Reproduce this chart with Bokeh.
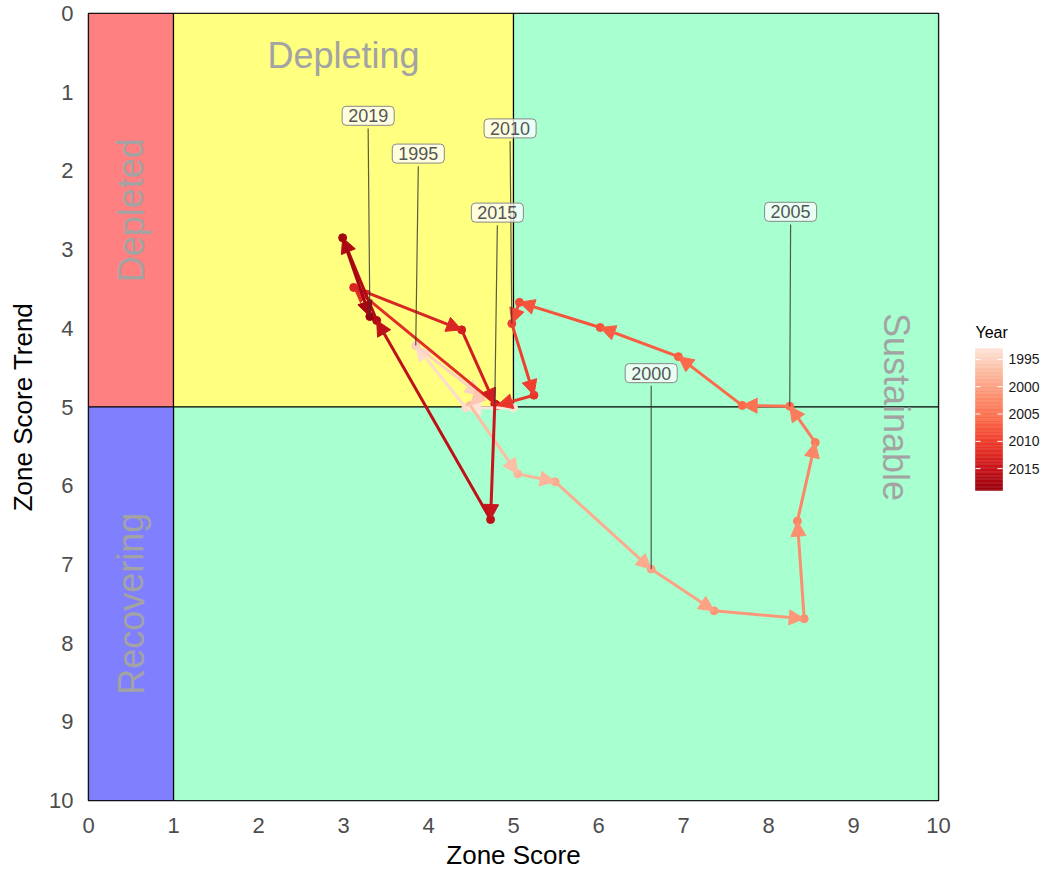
from bokeh.plotting import figure
from bokeh.layouts import row
from bokeh.models import Range1d, ColumnDataSource, Arrow, NormalHead, FixedTicker
from bokeh.core.properties import value, field
from bokeh.embed import file_html
from bokeh.resources import INLINE

# ---------------- data ----------------
years = list(range(1993, 2020))
zone_score = [5.00, 4.44, 3.85, 4.61, 4.49, 5.05, 5.49, 6.62, 7.36, 8.42, 8.34, 8.55, 8.25,
              7.69, 6.94, 6.02, 5.07, 4.98, 5.24, 4.81, 3.12, 4.39, 4.78, 4.73, 3.39, 2.99, 3.31]
zone_trend = [5.01, 5.01, 4.22, 4.85, 4.98, 5.85, 5.95, 7.06, 7.59, 7.69, 6.45, 5.45, 4.99,
              4.98, 4.36, 3.99, 3.67, 3.94, 4.85, 4.98, 3.48, 4.02, 4.96, 6.43, 3.90, 2.85, 3.85]

label_years = [1995, 2000, 2005, 2010, 2015, 2019]
label_x = [3.88, 6.62, 8.26, 4.96, 4.81, 3.29]
label_y = [1.78, 4.57, 2.52, 1.46, 2.53, 1.30]

zone_names = ["Depleted", "Depleting", "Sustainable", "Sustainable", "Recovering"]
zone_left = [0, 1, 5, 1, 0]
zone_right = [1, 5, 10, 10, 1]
zone_top = [0, 0, 0, 5, 5]
zone_bottom = [5, 5, 5, 10, 10]
zone_colors = ["#FF8080", "#FFFF80", "#A8FFCF", "#A8FFCF", "#8080FF"]

region_text = ["Depleting", "Depleted", "Recovering", "Sustainable"]
region_x = [3.0, 0.5, 0.5, 9.5]
region_y = [0.53, 2.5, 7.5, 5.0]
region_angle = [0.0, 1.5708, 1.5708, -1.5708]

cbar_ticks = [1995, 2000, 2005, 2010, 2015]

# ---------------- colour helpers ----------------
reds7 = ["#FEE5D9", "#FCBBA1", "#FC9272", "#FB6A4A", "#EF3B2C", "#CB181D", "#99000D"]


def hex2rgb(h):
    return tuple(int(h[i:i + 2], 16) for i in (1, 3, 5))


def interp(t):
    t = min(max(t, 0.0), 1.0)
    pos = t * (len(reds7) - 1)
    i = min(int(pos), len(reds7) - 2)
    f = pos - i
    a, b = hex2rgb(reds7[i]), hex2rgb(reds7[i + 1])
    c = [round(a[k] + (b[k] - a[k]) * f) for k in range(3)]
    return "#%02x%02x%02x" % tuple(c)


ymin, ymax = min(years), max(years)
pt_colors = [interp((y - ymin) / (ymax - ymin)) for y in years]

FONT = "Liberation Sans"

p = figure(frame_width=850, frame_height=787,
           x_range=Range1d(0, 10), y_range=Range1d(10, 0),
           output_backend="svg", toolbar_location=None,
           min_border_left=88, min_border_top=13, min_border_bottom=75, min_border_right=20,
           background_fill_color="white", border_fill_color="white")
p.xgrid.visible = False
p.ygrid.visible = False
p.outline_line_color = "black"
p.outline_line_width = 1.5

# zones
p.quad(left=zone_left, right=zone_right, top=zone_top, bottom=zone_bottom,
       fill_color=zone_colors, line_color="black", line_width=1.2)

# region labels
p.text(x=region_x, y=region_y, text=region_text, angle=region_angle,
       text_align="center", text_baseline="middle", text_color="#A3A3A3",
       text_font=value(FONT), text_font_size="36px")

# path
seg = ColumnDataSource(dict(x0=zone_score[:-1], y0=zone_trend[:-1],
                            x1=zone_score[1:], y1=zone_trend[1:],
                            c=pt_colors[:-1]))
arrow = Arrow(x_start="x0", y_start="y0", x_end="x1", y_end="y1", source=seg,
              line_color=field("c"), line_width=3,
              end=NormalHead(size=15, fill_color=field("c"), line_color=field("c"), line_width=1))
p.add_layout(arrow)

pts = ColumnDataSource(dict(x=zone_score, y=zone_trend, c=pt_colors))
p.scatter("x", "y", source=pts, size=8, color="c", line_color="c")

# labels with connectors
lookup = {y: (zone_score[i], zone_trend[i]) for i, y in enumerate(years)}
lab = ColumnDataSource(dict(
    lx=label_x, ly=label_y, ly0=[v + 0.16 for v in label_y],
    px=[lookup[y][0] for y in label_years], py=[lookup[y][1] for y in label_years],
    t=[str(y) for y in label_years]))
p.segment(x0="lx", y0="ly0", x1="px", y1="py", source=lab, line_color="#333333",
          line_alpha=0.8, line_width=1.2, level="overlay")
p.text(x="lx", y="ly", text="t", source=lab, text_align="center", text_baseline="middle",
       text_color="#555555", text_font=value(FONT), text_font_size="18px",
       background_fill_color="white", background_fill_alpha=0.75,
       border_line_color="#888888", border_line_width=1, padding=[6, 3], border_radius=4,
       level="overlay")

# axes
for ax in (p.xaxis[0], p.yaxis[0]):
    ax.axis_line_color = None
    ax.major_tick_line_color = None
    ax.minor_tick_line_color = None
    ax.major_tick_out = 0
    ax.major_tick_in = 0
    ax.major_label_text_font = FONT
    ax.major_label_text_font_size = "22px"
    ax.major_label_text_color = "#4D4D4D"
    ax.axis_label_text_font = FONT
    ax.axis_label_text_font_size = "26px"
    ax.axis_label_text_font_style = "normal"
    ax.axis_label_text_color = "black"
    ax.ticker = FixedTicker(ticks=list(range(0, 11)))
p.xaxis.axis_label = "Zone Score"
p.yaxis.axis_label = "Zone Score Trend"
p.xaxis.major_label_standoff = 17
p.xaxis.axis_label_standoff = 4
p.yaxis.major_label_standoff = 15
p.yaxis.axis_label_standoff = 8

# ---------------- colour legend (separate small figure, frame aligned with main one) ----
FR_TOP, FR_BOT = 13.0, 800.0
px_per_year = 142.0 / (ymax - ymin)
top_year = ymin - (348.0 - FR_TOP) / px_per_year
bot_year = ymin + (FR_BOT - 348.0) / px_per_year
leg = figure(frame_width=96, frame_height=787, x_range=Range1d(0, 96),
             y_range=Range1d(bot_year, top_year),
             x_axis_type=None, y_axis_type=None,
             output_backend="svg", toolbar_location=None,
             min_border_left=0, min_border_right=0, min_border_top=13, min_border_bottom=75,
             background_fill_color="white", border_fill_color="white")
leg.grid.visible = False
leg.outline_line_color = None

nb = 104
step = (ymax - ymin) / nb
b_lo = [ymin + i * step for i in range(nb)]
b_hi = [ymin + (i + 1) * step for i in range(nb)]
b_col = [interp((i + 0.5) / nb) for i in range(nb)]
leg.quad(left=17, right=44, top=b_lo, bottom=b_hi, fill_color=b_col, line_color=b_col,
         line_width=0.5)
leg.segment(x0=17, x1=22, y0=cbar_ticks, y1=cbar_ticks, line_color="white", line_width=1)
leg.segment(x0=39, x1=44, y0=cbar_ticks, y1=cbar_ticks, line_color="white", line_width=1)
leg.text(x=50, y=cbar_ticks, text=[str(t) for t in cbar_ticks], text_baseline="middle",
         text_align="left", text_font=value(FONT), text_font_size="14px", text_color="#1A1A1A")
leg.text(x=[17], y=[ymin - 16 / px_per_year], text=["Year"], text_baseline="middle",
         text_align="left", text_font=value(FONT), text_font_size="16px", text_color="black")

layout = row(p, leg, spacing=0)
open("out.html", "w").write(file_html(layout, INLINE))
